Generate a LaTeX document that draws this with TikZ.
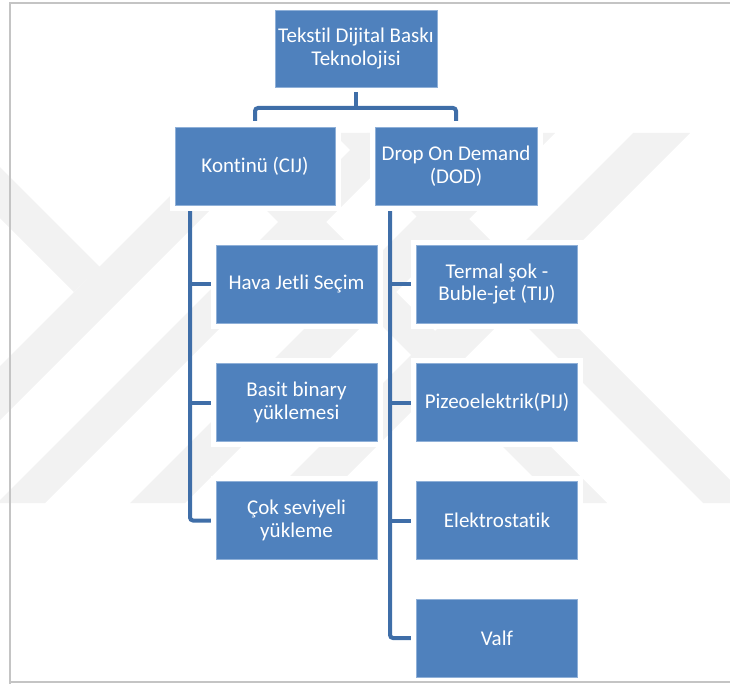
\documentclass[tikz,border=0pt]{standalone}
\usepackage{fontspec}
\setmainfont{Carlito}[Ligatures=NoCommon]
\definecolor{boxblue}{HTML}{4F81BD}
\definecolor{boxedge}{HTML}{8FB0D8}
\definecolor{linkblue}{HTML}{3F6EA8}
\definecolor{wm}{HTML}{F2F2F2}
\definecolor{framegray}{HTML}{C4C4C4}
\pgfdeclarelayer{bg}
\pgfsetlayers{bg,main}
\tikzset{
  blk/.style={rectangle, fill=boxblue, draw=boxedge, line width=0.8bp, text=white,
    align=center, inner sep=0pt, font=\fontsize{21bp}{22.5bp}\selectfont,
    preaction={draw=white, line width=11bp}},
  childbox/.style={blk, minimum width=161bp, minimum height=78bp},
  link/.style={draw=linkblue, line width=4bp, rounded corners=3bp},
  wmband/.style={fill=wm, draw=none},
  framel/.style={draw=framegray, line width=2bp}
}
\begin{document}
\begin{tikzpicture}[x=1bp, y=-1bp]
\useasboundingbox (0,0) rectangle (730,684);
% nodes
\node[blk, minimum width=162bp, minimum height=77bp] (top) at (356,48.5) {Tekstil Dijital Baskı\\Teknolojisi};
\node[blk, minimum width=160bp, minimum height=78bp] (k) at (255,166) {Kontinü (CIJ)};
\node[blk, minimum width=162bp, minimum height=78bp] (d) at (456,166) {Drop On Demand\\(DOD)};
\node[childbox] (c1) at (296.5,284) {Hava Jetli Seçim};
\node[childbox] (c2) at (296.5,402.5) {Basit binary\\yüklemesi};
\node[childbox] (c3) at (296.5,520.5) {Çok seviyeli\\yükleme};
\node[childbox] (r1) at (497,284) {Termal şok -\\Buble-jet (TIJ)};
\node[childbox] (r2) at (497,402.5) {Pizeoelektrik(PIJ)};
\node[childbox] (r3) at (497,520.5) {Elektrostatik};
\node[childbox] (r4) at (497,638) {Valf};
\coordinate (bar) at (356,108);
\coordinate (kt) at (190,205);
\coordinate (dt) at (390,205);
% frame on top of the box glows
\draw[framel] (10,684) -- (10,3) -- (730,3);
\draw[framel] (10,682) -- (730,682);
\begin{pgfonlayer}{bg}
  % watermark
  \begin{scope}
    \clip (0,133) rectangle (730,503);
    \fill[wmband] (233,133) -- (287,133) -- (-83,503) -- (-137,503) -- cycle;
    \fill[wmband] (367,133) -- (415,133) -- (45,503) -- (-3,503) -- cycle;
    \fill[wmband] (500,133) -- (555,133) -- (185,503) -- (130,503) -- cycle;
    \fill[wmband] (633,133) -- (690,133) -- (320,503) -- (263,503) -- cycle;
    \fill[wmband] (189,133) -- (237,133) -- (607,503) -- (559,503) -- cycle;
    \fill[wmband] (333,133) -- (383,133) -- (753,503) -- (703,503) -- cycle;
    \fill[wmband] (0,167) -- (100,267) -- (74,292) -- (0,218) -- cycle;
  \end{scope}
  % connectors
  \draw[link] (top.south) -- (bar);
  \draw[link] (k.north) |- (bar) -| (d.north);
  \draw[link] (kt) |- (c3.west);
  \draw[link] (c1.west) -- (c1.west -| kt);
  \draw[link] (c2.west) -- (c2.west -| kt);
  \draw[link] (dt) |- (r4.west);
  \draw[link] (r1.west) -- (r1.west -| dt);
  \draw[link] (r2.west) -- (r2.west -| dt);
  \draw[link] (r3.west) -- (r3.west -| dt);
\end{pgfonlayer}
\end{tikzpicture}
\end{document}
